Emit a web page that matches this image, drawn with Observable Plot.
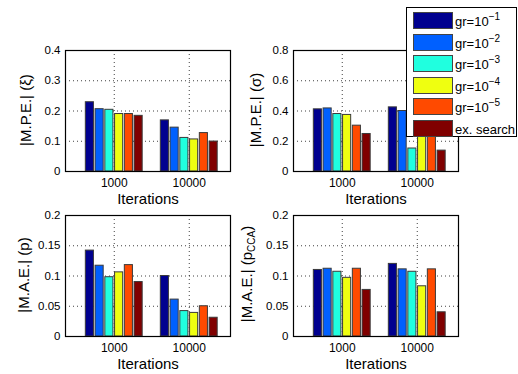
<!DOCTYPE html>
<html><head><meta charset="utf-8">
<script src="https://cdn.jsdelivr.net/npm/d3@7"></script>
<script src="https://cdn.jsdelivr.net/npm/@observablehq/plot@0.6"></script>
<style>
body{margin:0;background:#fff;}
#chart{position:relative;width:518px;height:374px;overflow:hidden;font-family:"Liberation Sans",Arial,sans-serif;color:#000;}
.panel{position:absolute;}
.ylab{position:absolute;font-size:15px;white-space:nowrap;transform:translate(-50%,-50%) rotate(-90deg);line-height:1;}
.ylab sub{font-size:10px;vertical-align:-3px;}
#legend{position:absolute;left:406px;top:7px;width:109px;height:128px;border:1px solid #000;background:#fff;z-index:5;}
.sw{position:absolute;left:6px;width:38px;height:15px;border:1px solid #444;}
.lt{position:absolute;left:48px;font-size:13px;line-height:16px;white-space:nowrap;}
.lt sup{font-size:10px;vertical-align:6px;line-height:0;}
</style></head>
<body><div id="chart"></div>
<script>
// categories
const iterations = ["1000", "10000"];
const seriesNames = ["gr=10^-1", "gr=10^-2", "gr=10^-3", "gr=10^-4", "gr=10^-5", "ex. search"];
const seriesColors = ["#00008F", "#0060FF", "#20FFDF", "#EFFF10", "#FF4A00", "#800000"];

// |M.P.E.| (xi)
const mpeXi_1000 = [0.229, 0.206, 0.204, 0.190, 0.190, 0.184];
const mpeXi_10000 = [0.169, 0.145, 0.111, 0.106, 0.127, 0.099];
// |M.P.E.| (sigma)
const mpeSigma_1000 = [0.411, 0.417, 0.380, 0.374, 0.303, 0.248];
const mpeSigma_10000 = [0.424, 0.400, 0.152, 0.270, 0.290, 0.138];
// |M.A.E.| (p)
const maeP_1000 = [0.142, 0.117, 0.098, 0.106, 0.118, 0.090];
const maeP_10000 = [0.100, 0.061, 0.042, 0.039, 0.050, 0.031];
// |M.A.E.| (p_CCA)
const maePcca_1000 = [0.110, 0.112, 0.107, 0.097, 0.112, 0.077];
const maePcca_10000 = [0.120, 0.111, 0.107, 0.083, 0.111, 0.040];

// tick labels
const ticksA = ["0", "0.1", "0.2", "0.3", "0.4"];
const ticksB = ["0", "0.2", "0.4", "0.6", "0.8"];
const ticksC = ["0", "0.05", "0.1", "0.15", "0.2"];

const chart = document.getElementById("chart");
const FONT = '"Liberation Sans", Arial, sans-serif';

function makePanel(v1000, v10000, tickLabels, frameLeft, frameTop) {
  const yTicks = tickLabels.map(Number);
  const yMax = yTicks[yTicks.length - 1];
  const data = [];
  [v1000, v10000].forEach((vals, g) => {
    vals.forEach((v, i) => data.push({g: g + 1, i, v, s: seriesNames[i]}));
  });
  const slot = 0.13, bw = 0.108;
  const ml = 45, mr = 8, mt = 8, mb = 45;
  const W = 165, H = 121;
  const svg = Plot.plot({
    width: W + ml + mr, height: H + mt + mb,
    marginLeft: ml, marginRight: mr, marginTop: mt, marginBottom: mb,
    style: {fontFamily: FONT, fontSize: "12px", background: "transparent", overflow: "visible", color: "#000"},
    x: {type: "linear", domain: [0.35, 2.55]},
    y: {domain: [0, yMax]},
    color: {domain: seriesNames, range: seriesColors},
    marks: [
      Plot.gridY(yTicks.filter(t => t > 0 && t < yMax), {stroke: "#000", strokeOpacity: 0.75, strokeDasharray: "1,3"}),
      Plot.gridX([1, 2], {stroke: "#000", strokeOpacity: 0.75, strokeDasharray: "1,3"}),
      Plot.rectY(data, {
        x1: d => d.g + (d.i - 2.5) * slot - bw / 2,
        x2: d => d.g + (d.i - 2.5) * slot + bw / 2,
        y1: 0, y2: "v", fill: "s", stroke: "#3a3a3a", strokeWidth: 1
      }),
      Plot.frame({stroke: "#000", strokeWidth: 1.2}),
      Plot.axisX([1, 2], {tickSize: 0, tickPadding: 7, tickFormat: d => iterations[d - 1], label: null, fontSize: 12}),
      Plot.axisY(yTicks, {tickSize: 0, tickPadding: 5, tickFormat: d => tickLabels[yTicks.indexOf(d)], label: null, fontSize: 11.5}),
      Plot.text(["Iterations"], {text: d => d, frameAnchor: "bottom", dy: 27.5, lineAnchor: "middle", fontSize: 15})
    ]
  });
  svg.classList.add("panel");
  svg.style.left = (frameLeft - ml) + "px";
  svg.style.top = (frameTop - mt) + "px";
  chart.appendChild(svg);
}

makePanel(mpeXi_1000, mpeXi_10000, ticksA, 64.5, 49.5);
makePanel(mpeSigma_1000, mpeSigma_10000, ticksB, 293, 49.5);
makePanel(maeP_1000, maeP_10000, ticksC, 64.5, 214.5);
makePanel(maePcca_1000, maePcca_10000, ticksC, 293, 214.5);

function ylabel(html, cx, cy) {
  const d = document.createElement("div");
  d.className = "ylab";
  d.innerHTML = html;
  d.style.left = cx + "px";
  d.style.top = cy + "px";
  chart.appendChild(d);
}
ylabel("|M.P.E.| (ξ)", 25, 110);
ylabel("|M.P.E.| (σ)", 255, 110);
ylabel("|M.A.E.| (p)", 23, 275);
ylabel("|M.A.E.| (p<sub>CCA</sub>)", 248, 274);

// legend
const legend = document.createElement("div");
legend.id = "legend";
const rowTops = [4, 25.5, 47, 68.5, 90, 111.5];
seriesNames.forEach((name, i) => {
  const sw = document.createElement("div");
  sw.className = "sw";
  sw.style.top = rowTops[i] + "px";
  sw.style.background = seriesColors[i];
  legend.appendChild(sw);
  const t = document.createElement("div");
  t.className = "lt";
  t.style.top = (rowTops[i] + 2) + "px";
  const m = name.match(/^gr=10\^(-\d+)$/);
  t.innerHTML = m ? "gr=10<sup>" + m[1].replace("-", "−") + "</sup>" : name;
  legend.appendChild(t);
});
chart.appendChild(legend);
</script>
</body></html>
